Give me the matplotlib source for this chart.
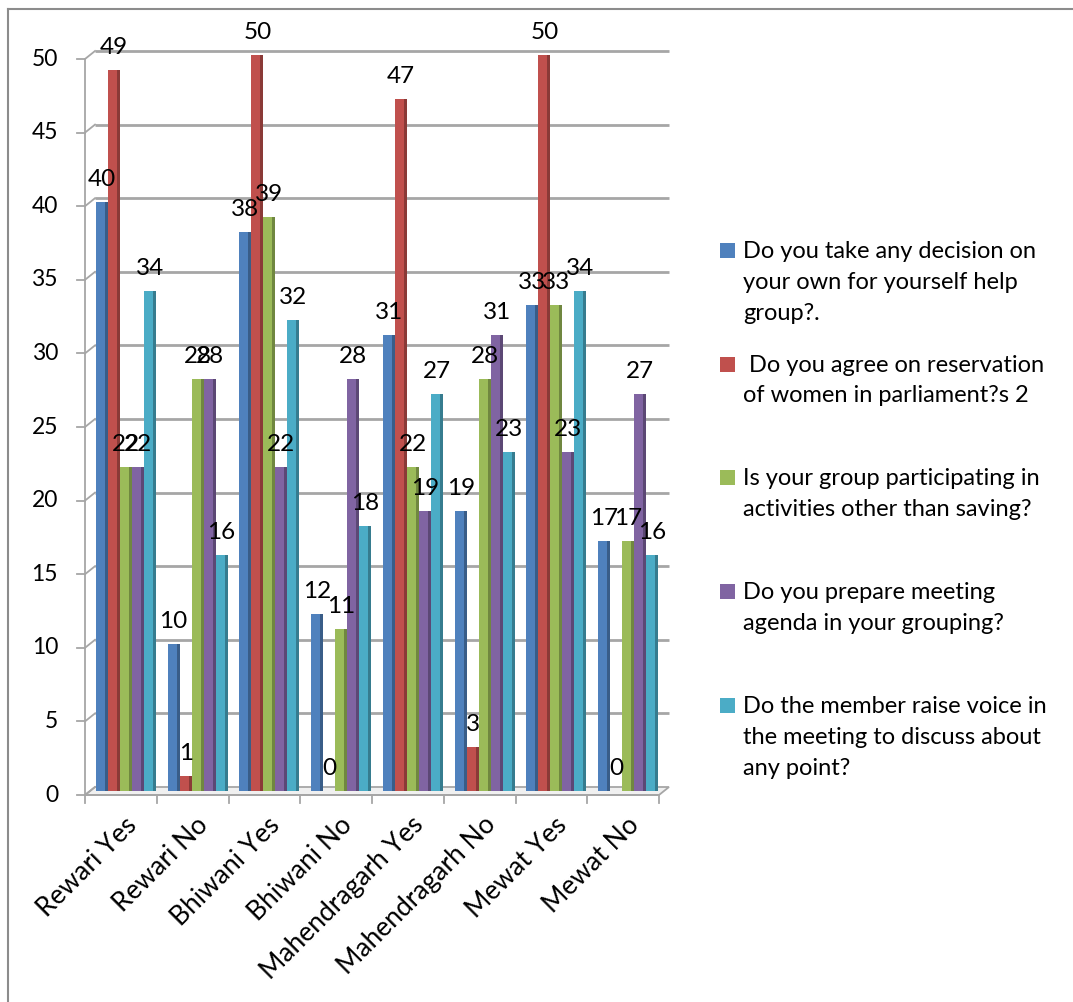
import matplotlib
matplotlib.use("Agg")
import matplotlib.pyplot as plt
from matplotlib.patches import Polygon, Rectangle
from matplotlib.lines import Line2D
import matplotlib.colors as mcolors

plt.rcParams['font.family'] = ['Lato', 'DejaVu Sans']

# ---------------- data ----------------
categories = ["Rewari Yes", "Rewari No", "Bhiwani Yes", "Bhiwani No",
              "Mahendragarh Yes", "Mahendragarh No", "Mewat Yes", "Mewat No"]

series_labels = [
    "Do you take any decision on\nyour own for yourself help\ngroup?.",
    " Do you agree on reservation\nof women in parliament?s 2",
    "Is your group participating in\nactivities other than saving?",
    "Do you prepare meeting\nagenda in your grouping?",
    "Do the member raise voice in\nthe meeting to discuss about\nany point?",
]

decision = [40, 10, 38, 12, 31, 19, 33, 17]
reservation = [49, 1, 50, 0, 47, 3, 50, 0]
activities = [22, 28, 39, 11, 22, 28, 33, 17]
agenda = [22, 28, 22, 28, 19, 31, 23, 27]
voice = [34, 16, 32, 18, 27, 23, 34, 16]

series_values = [decision, reservation, activities, agenda, voice]
colors = ["#4F81BD", "#C0504D", "#9BBB59", "#8064A2", "#4BACC6"]
yticks = [0, 5, 10, 15, 20, 25, 30, 35, 40, 45, 50]

# ---------------- figure ----------------
W, H = 1073, 1002
fig = plt.figure(figsize=(W / 100, H / 100), dpi=100)
fig.patch.set_facecolor("white")

ax_left, ax_right = 90, 664
ax_bot, ax_top = 791, 55
ax = fig.add_axes([ax_left / W, (H - ax_bot) / H,
                   (ax_right - ax_left) / W, (ax_bot - ax_top) / H])
ax.set_xlim(-0.5, 7.5)
ax.set_ylim(0, 50)
ax.axis("off")

pxx = (ax_right - ax_left) / 8.0        # pixels per category
pxy = (ax_bot - ax_top) / 50.0          # pixels per unit
dx = 5 / pxx                            # half depth in x (data units)
dy = 4 / pxy                            # half depth in y (data units)

grid_col = "#a6a6a6"
n = len(categories)

# floor
floor = Polygon([(-0.5 - dx, -dy), (n - 0.5 - dx, -dy),
                 (n - 0.5 + dx, dy), (-0.5 + dx, dy)],
                closed=True, facecolor="#f0f0f0", edgecolor=grid_col,
                linewidth=1.3, zorder=1, clip_on=False)
ax.add_patch(floor)

# back-wall gridlines + diagonal connectors + front ticks/labels
for v in yticks:
    if v > 0:
        ax.plot([-0.5 + dx, n - 0.5 + dx], [v + dy, v + dy], color=grid_col,
                lw=2.0, zorder=1, clip_on=False, solid_capstyle="butt")
    ax.plot([-0.5 - dx, -0.5 + dx], [v - dy, v + dy], color=grid_col,
            lw=1.3, zorder=1, clip_on=False)
    ax.plot([-0.5 - dx - 8 / pxx, -0.5 - dx], [v - dy, v - dy], color=grid_col,
            lw=1.3, zorder=1, clip_on=False)
    ax.text(-0.5 - dx - 27 / pxx, v - dy, str(v), ha="right", va="center",
            fontsize=16.5, color="black")

# front y axis and x axis
ax.plot([-0.5 - dx, -0.5 - dx], [-dy, 50 - dy], color=grid_col, lw=1.3,
        zorder=1, clip_on=False)
ax.plot([-0.5 - dx, n - 0.5 - dx], [-dy, -dy], color=grid_col, lw=1.3,
        zorder=1, clip_on=False)
for k in range(n + 1):
    ax.plot([k - 0.5 - dx, k - 0.5 - dx], [-dy, -dy - 8 / pxy], color=grid_col,
            lw=1.3, zorder=1, clip_on=False)

# bars
bw = 0.167
sw = 3 / pxx
for j, (vals, c) in enumerate(zip(series_values, colors)):
    xs = [i + (j - 2) * bw for i in range(n)]
    dark = tuple(0.72 * ch for ch in mcolors.to_rgb(c))
    ax.bar(xs, vals, width=bw, color=c, edgecolor="none", zorder=3,
           clip_on=False)
    ax.bar([x + bw / 2 - sw / 2 for x in xs], vals, width=sw, color=dark,
           edgecolor="none", zorder=3, clip_on=False)
    for x, v in zip(xs, vals):
        ax.annotate(str(v), (x, v), xytext=(0, 16), textcoords="offset pixels",
                    ha="center", va="baseline", fontsize=17.5, color="black",
                    zorder=5, annotation_clip=False)

# category labels
for i, lab in enumerate(categories):
    ax.text(i - dx + 12 / pxx, -dy - 26 / pxy, lab, rotation=45,
            rotation_mode="anchor", ha="right", va="center", fontsize=19,
            color="black")

# legend (manual, Excel style)
first_baselines = [257, 371, 484, 598, 712]
line_px = 31.5
leg_fs = 17
for lab, c, b in zip(series_labels, colors, first_baselines):
    nlines = lab.count("\n") + 1
    last_b = b + (nlines - 1) * line_px
    fig.add_artist(Rectangle((720 / W, (H - (b - 7) - 7.5) / H), 15 / W, 15 / H,
                             transform=fig.transFigure, facecolor=c,
                             edgecolor="none"))
    fig.text(743 / W, (H - last_b) / H, lab, ha="left", va="baseline",
             fontsize=leg_fs, linespacing=1.355 * 32 / 27.5,
             color="black")

# outer chart border (left and top visible)
fig.add_artist(Line2D([8 / W, 8 / W], [0, (H - 9) / H], transform=fig.transFigure,
                      color="#8c8c8c", lw=1.5))
fig.add_artist(Line2D([8 / W, 1], [(H - 9) / H, (H - 9) / H],
                      transform=fig.transFigure, color="#8c8c8c", lw=1.5))

fig.savefig("out.png", dpi=100, facecolor="white")
